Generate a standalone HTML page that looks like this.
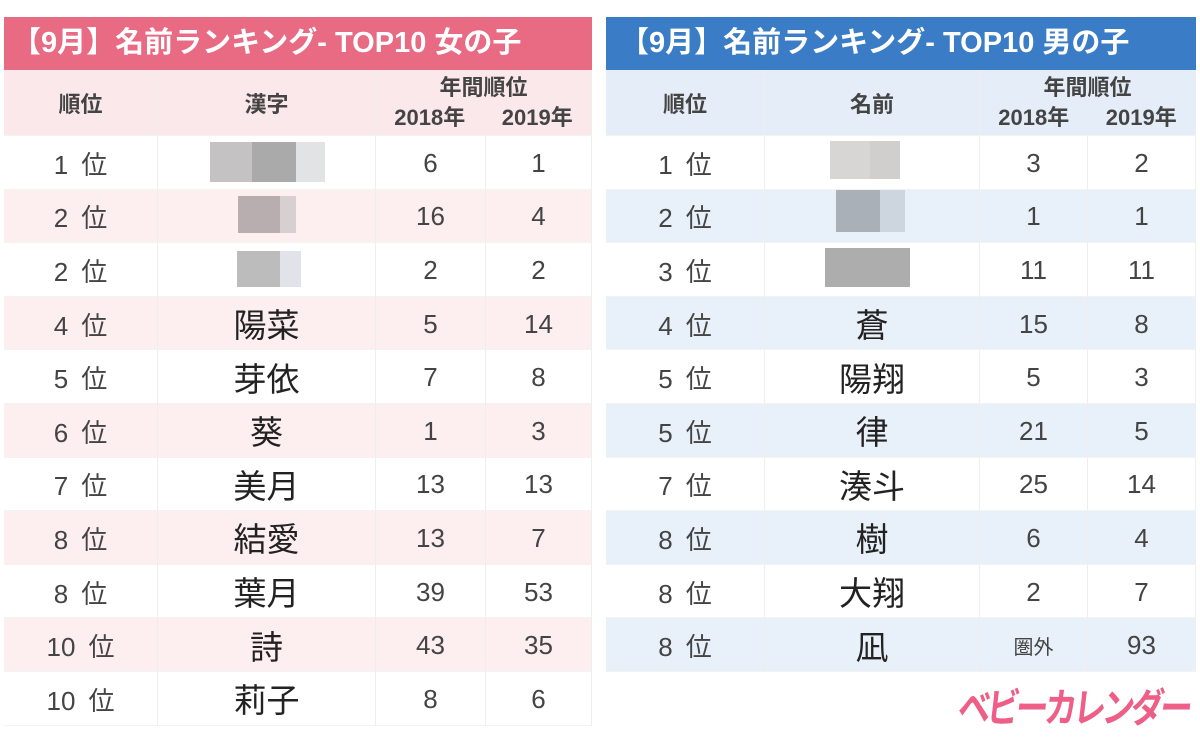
<!DOCTYPE html>
<html><head><meta charset="utf-8">
<style>
body{margin:0;width:1200px;height:740px;background:#fff;position:relative;overflow:hidden;font-family:"Liberation Sans","Noto Sans CJK JP",sans-serif;color:#333}
.abs{position:absolute}
.title{position:absolute;top:17px;height:53px;color:#fff;font-weight:bold;font-size:29px;line-height:53px;white-space:nowrap}
.cell{position:absolute;display:flex;align-items:center;justify-content:center;box-sizing:border-box;border-right:1px solid #eee;border-bottom:1px solid #f3f3f3;white-space:nowrap}
.hd{font-weight:bold;font-size:22px;color:#444}
.num{font-size:26px;color:#444;padding-top:2px}
.kj{font-size:33px;color:#222}
.blur{position:absolute}
</style></head><body>
<div class="title" style="left:4px;width:588px;background:#e86a83;padding-left:8px;box-sizing:border-box">【9月】名前ランキング- TOP10 女の子</div>
<div class="title" style="left:606px;width:590px;background:#3b7cc6;padding-left:14px;box-sizing:border-box">【9月】名前ランキング- TOP10 男の子</div>
<div id="g"></div>
<div id="b"></div>
<div class="abs" style="left:962px;top:676px;font-size:35px;font-weight:bold;color:#ee5f88;letter-spacing:-4px;white-space:nowrap;transform-origin:0 0;transform:scale(0.93,1.15) skewX(-8deg)">ベビーカレンダー</div>
<script>
const girlRanks=["1\u2002位","2\u2002位","2\u2002位","4\u2002位","5\u2002位","6\u2002位","7\u2002位","8\u2002位","8\u2002位","10\u2002位","10\u2002位"];
const girlNames=["","","","陽菜","芽依","葵","美月","結愛","葉月","詩","莉子"];
const girl2018=["6","16","2","5","7","1","13","13","39","43","8"];
const girl2019=["1","4","2","14","8","3","13","7","53","35","6"];
const boyRanks=["1\u2002位","2\u2002位","3\u2002位","4\u2002位","5\u2002位","5\u2002位","7\u2002位","8\u2002位","8\u2002位","8\u2002位"];
const boyNames=["","","","蒼","陽翔","律","湊斗","樹","大翔","凪"];
const boy2018=["3","1","11","15","5","21","25","6","2","圏外"];
const boy2019=["2","1","11","8","3","5","14","4","7","93"];
function mk(parent,cls,x,y,w,h,txt,bg,name){
  const d=document.createElement('div');
  d.className='cell '+cls;
  d.style.cssText=`left:${x}px;top:${y}px;width:${w}px;height:${h}px;background:${bg}`;
  d.textContent=txt;
  
  
  parent.appendChild(d);return d;
}
function table(id,cols,ranks,names,a,b,hdrBg,altBg,nameHdr){
  const p=document.getElementById(id);
  const top=70,hh=66,rh=53.6;
  mk(p,'hd',cols[0],top,cols[1]-cols[0],hh,'順位',hdrBg,'header-rank');
  mk(p,'hd',cols[1],top,cols[2]-cols[1],hh,nameHdr,hdrBg,'header-name');
  const yh=mk(p,'hd',cols[2],top,cols[4]-cols[2],hh,'',hdrBg,'header-annual');
  yh.style.flexDirection='column';yh.style.lineHeight='30px';
  yh.innerHTML='<div>年間順位</div><div style="display:flex;width:100%"><span style="flex:1;text-align:center">2018年</span><span style="flex:1;text-align:center">2019年</span></div>';
  for(let i=0;i<ranks.length;i++){
    const y=top+hh+i*rh,bg=i%2?altBg:'#fff';
    mk(p,'num',cols[0],y,cols[1]-cols[0],rh,ranks[i],bg,'rank-cell');
    mk(p,'kj',cols[1],y,cols[2]-cols[1],rh,names[i],bg,'name-cell');
    const c=mk(p,'num',cols[2],y,cols[3]-cols[2],rh,a[i],bg,'rank-2018-cell');
    if(a[i]==='圏外')c.style.fontSize='20px';
    mk(p,'num',cols[3],y,cols[4]-cols[3],rh,b[i],bg,'rank-2019-cell');
  }
}
table('g',[4,158,376,486,592],girlRanks,girlNames,girl2018,girl2019,'#fbe8eb','#fdeef0','漢字');
table('b',[606,765,980,1088,1196],boyRanks,boyNames,boy2018,boy2019,'#e4edf8','#e8f0f9','名前');
const blurs=[[210,142,86,40,'#c4c2c3'],[252,142,44,40,'#aaaaaa'],[296,142,29,40,'#e2e3e5'],
[238,196,42,37,'#b8adaf'],[280,196,16,37,'#d8cfd1'],
[237,251,43,36,'#bdbcbc'],[280,251,21,36,'#e2e2ea'],
[830,141,40,38,'#d8d6d5'],[870,141,30,38,'#d0cfce'],
[836,190,44,42,'#a9b0b8'],[880,190,25,42,'#cdd6de'],
[825,248,85,39,'#adadad']];
for(const r of blurs){
  const d=document.createElement('div');d.className='blur';
  d.style.cssText=`left:${r[0]}px;top:${r[1]}px;width:${r[2]}px;height:${r[3]}px;background:${r[4]}`;
  
  
  document.body.appendChild(d);
}
</script>
</body></html>
